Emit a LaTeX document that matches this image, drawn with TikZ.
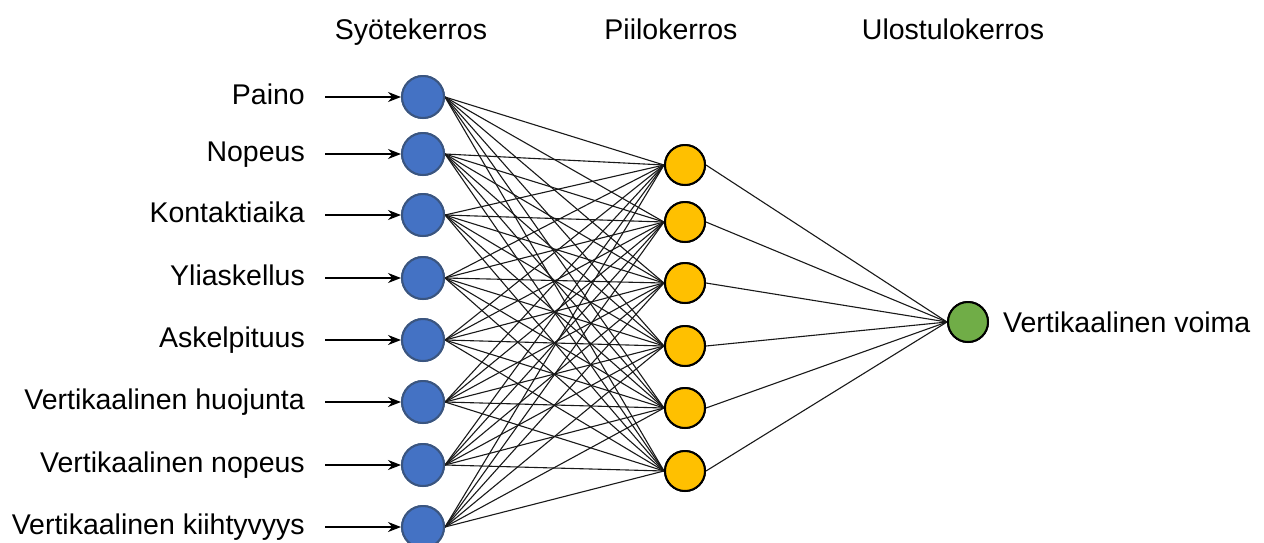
\documentclass[tikz,border=0pt]{standalone}
\usepackage{fontspec}
\setmainfont{Liberation Sans}
\usetikzlibrary{arrows.meta}
\definecolor{inblue}{HTML}{4472C4}
\definecolor{inborder}{HTML}{3A5580}
\definecolor{hidyel}{HTML}{FFC000}
\definecolor{outgreen}{HTML}{70AD47}
\begin{document}
\begin{tikzpicture}[x=1pt,y=-1pt,
  innode/.style={circle,draw=inborder,fill=inblue,line width=2pt,minimum size=42pt,inner sep=0pt},
  hidnode/.style={circle,draw=black,fill=hidyel,line width=2pt,minimum size=40pt,inner sep=0pt},
  outnode/.style={circle,draw=black,fill=outgreen,line width=2pt,minimum size=40pt,inner sep=0pt},
  lbl/.style={font=\fontsize{28.5}{32}\selectfont,inner sep=0pt},
  conn/.style={draw=black!90,line width=1.1pt},
  inarrow/.style={draw=black,line width=1.4pt,-{Stealth[length=13pt,width=10pt]}}]
\useasboundingbox (0,0) rectangle (1264,542);
\fill[white] (0,0) rectangle (1264,542);
% headers
\node[lbl,anchor=base] (h1) at (411,39) {Syötekerros};
\node[lbl,anchor=base] (h2) at (671,39) {Piilokerros};
\node[lbl,anchor=base] (h3) at (953,39) {Ulostulokerros};
% input nodes
\foreach \i/\y in {1/97,2/154,3/215,4/278,5/340,6/402,7/465,8/527}{
  \node[innode] (i\i) at (423,\y) {};
}
% hidden nodes
\foreach \j/\y in {1/165,2/222,3/283,4/346,5/408,6/471}{
  \node[hidnode] (h\j) at (685,\y) {};
}
\node[outnode] (o) at (968,322) {};
% connections
\foreach \i in {1,...,8}{
  \foreach \j in {1,...,6}{
    \draw[conn] (i\i.east) -- (h\j.west);
  }
}
\foreach \j in {1,...,6}{
  \draw[conn] (h\j.east) -- (o.west);
}
% redraw nodes on top
\foreach \i/\y in {1/97,2/154,3/215,4/278,5/340,6/402,7/465,8/527}{
  \node[innode] at (423,\y) {};
}
\foreach \j/\y in {1/165,2/222,3/283,4/346,5/408,6/471}{
  \node[hidnode] at (685,\y) {};
}
\node[outnode] at (968,322) {};
% input labels and arrows
\foreach \i/\y/\t in {1/97/Paino,2/154/Nopeus,3/215/Kontaktiaika,4/278/Yliaskellus,5/340/Askelpituus,6/402/Vertikaalinen huojunta,7/465/Vertikaalinen nopeus,8/527/Vertikaalinen kiihtyvyys}{
  \node[lbl,anchor=base east] (l\i) at (305,\y+7) {\t};
  \coordinate (a\i) at (325,\y);
  \draw[inarrow] (a\i) -- (i\i.west);
}
\node[lbl,anchor=base west] (ol) at (1003,332) {Vertikaalinen voima};
\end{tikzpicture}
\end{document}
